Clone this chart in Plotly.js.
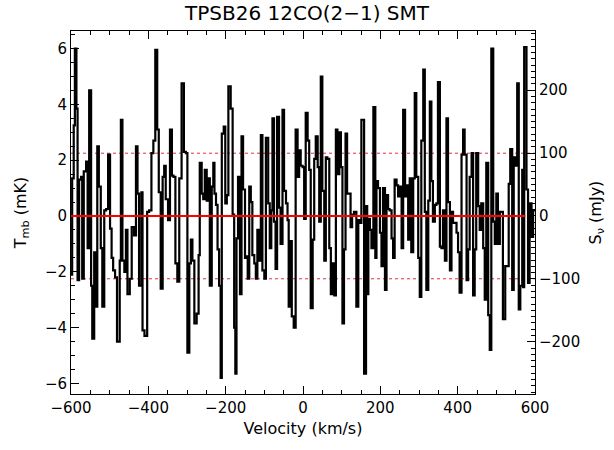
<!DOCTYPE html>
<html>
<head>
<meta charset="utf-8">
<script src="https://cdn.plot.ly/plotly-3.0.1.min.js"></script>
<style>
  html, body { margin: 0; padding: 0; background: #fff; }
  #chart { width: 614px; height: 450px; }
</style>
</head>
<body>
<div id="chart"></div>
<script>
// Spectrum: left edge of each channel step (km/s) and its brightness (mK)
const stepStart = [
  -600, -597, -593, -590, -586, -583, -579, -574, -571, -567, -561, -557, -553, -548, -545, -540,
  -536, -532, -528, -523, -519, -514, -509, -504, -499, -495, -491, -486, -481, -474, -471, -467,
  -462, -458, -454, -448, -443, -437, -432, -428, -424, -418, -415, -410, -403, -398, -392, -387,
  -382, -377, -373, -368, -363, -359, -355, -349, -344, -339, -335, -330, -325, -320, -314, -308,
  -303, -299, -294, -290, -286, -281, -275, -270, -267, -262, -258, -254, -249, -245, -241, -236,
  -232, -229, -225, -221, -217, -213, -210, -205, -201, -197, -193, -187, -182, -178, -175, -172,
  -168, -163, -159, -155, -150, -146, -143, -139, -135, -131, -126, -122, -118, -113, -109, -105,
  -100, -96, -90, -86, -82, -79, -75, -71, -67, -62, -58, -53, -49, -44, -40, -37,
  -33, -29, -24, -19, -14, -10, -6, -1, 3, 7, 12, 16, 20, 25, 29, 33,
  38, 42, 46, 50, 55, 59, 63, 68, 72, 76, 81, 85, 89, 94, 98, 102,
  106, 110, 114, 123, 127, 132, 138, 143, 147, 151, 158, 163, 166, 169, 173, 177,
  182, 187, 190, 194, 199, 203, 207, 212, 216, 220, 224, 229, 233, 237, 242, 246,
  250, 255, 259, 264, 268, 272, 276, 280, 285, 289, 293, 298, 302, 306, 311, 315,
  319, 324, 328, 332, 336, 341, 345, 349, 354, 358, 362, 367, 371, 375, 380, 384,
  388, 397, 401, 405, 410, 414, 418, 423, 427, 431, 436, 440, 444, 448, 453, 457,
  461, 466, 470, 474, 479, 483, 487, 492, 496, 500, 504, 509, 517, 523, 532, 536,
  541, 545, 549, 554, 558, 562, 567, 569, 572, 578, 582, 586, 591, 595
];
const tmb = [
  -2.1, 1.35, 3.25, 6.0, 3.85, -2.3, 1.3, 1.4, -2.25, 1.6, 1.95, -1.15, 4.5, -2.5, -4.4, -1.3,
  -3.25, 2.5, 1.05, -1.15, -3.25, 0.2, 0.25, 2.2, -0.45, -1.5, -1.95, -2.2, -4.5, -1.6, 3.45, -1.6,
  -2.0, -0.5, -2.8, -2.25, -0.4, -0.7, 2.5, 0.8, -2.5, 0.85, -4.1, -4.3, 0.15, 0.2, 2.25, 2.7,
  5.95, 3.1, 0.85, -2.6, 1.4, 1.8, 0.6, -0.15, 3.1, 1.45, 1.4, -1.7, -2.35, 1.35, 4.75, 2.3,
  2.25, -4.9, -1.7, -0.85, -1.6, -3.85, -3.5, -1.4, 1.9, 0.8, 0.6, 1.65, 0.55, 1.35, -2.5, 1.05,
  1.9, 0.8, 0.4, -1.2, -2.5, -5.8, 2.95, 3.2, 0.45, 0.75, 4.65, 3.85, 0.05, -4.0, -5.65, -0.8,
  1.4, -2.8, 2.85, 0.95, -1.5, -1.45, -2.25, 1.05, 0.5, -1.4, -1.7, -2.25, -0.5, -1.6, 2.9, -1.95,
  -2.25, 2.8, 0.45, -1.15, 0.2, 3.5, -0.2, -1.9, 3.55, 0.3, -1.0, 3.8, 0.9, 0.45, -0.15, -3.25,
  -0.9, -3.6, -4.0, 3.1, 1.4, 2.35, 1.8, 1.75, -0.1, 3.7, 2.7, 1.65, -3.3, -0.85, 2.05, 2.85,
  1.75, -0.2, 5.0, 0.9, -1.6, 2.1, 2.05, -1.15, -2.8, -1.7, -2.85, 3.1, 1.5, 3.0, 1.75, -3.85,
  -1.2, 2.95, 0.8, -0.4, 0.05, 0.15, -3.25, -0.15, -0.25, 3.45, -5.65, 0.35, -2.8, -0.1, -0.5, -1.15,
  3.9, -1.5, 1.25, 1.0, -0.6, -1.8, 1.0, -2.65, 0.75, 0.25, 0.2, -0.8, -1.5, 1.3, 1.1, 0.7,
  1.05, -1.15, 3.8, 0.7, 1.1, -0.85, 1.35, -1.3, 1.35, 4.4, 1.4, -1.5, -2.9, 2.7, 5.25, 0.15,
  -2.65, 0.55, 4.1, 1.25, -0.2, 0.4, 0.45, 4.8, -1.1, -1.15, 0.2, -1.6, 3.5, 0.5, -1.95, 0.15,
  -0.25, -0.6, -1.3, -2.75, 2.2, 3.1, 2.2, -2.3, -1.2, 1.4, 2.25, -2.85, -1.2, 2.25, 0.35, -0.5,
  0.45, -1.15, -3.0, 1.9, -3.55, -4.8, 6.0, -0.2, -1.0, 0.8, -1.0, 0.15, -3.7, -1.8, 1.15, 2.4,
  -2.65, 2.1, 1.8, 4.75, -3.35, -2.5, 1.65, -2.55, 6.05, 0.95, -2.4, 0.45, -0.75, 0.2
];

const velocityRange = [-600, 600];   // km/s
const tmbRange = [-6.38, 6.63];      // mK
const mJyPerMK = 44.35;              // flux-density conversion for the right axis
const noiseLevel = 2.25;             // mK, dotted reference lines
const baselineRange = [-600, 575];   // km/s, solid zero line

// close the last channel at the edge of the band
const xs = stepStart.concat([velocityRange[1]]);
const ys = tmb.concat([tmb[tmb.length - 1]]);

const fontFamily = 'DejaVu Sans, Liberation Sans, sans-serif';

const spectrum = {
  x: xs, y: ys,
  type: 'scatter', mode: 'lines',
  line: { shape: 'hv', color: '#000', width: 2.2 },
  hoverinfo: 'skip', showlegend: false
};
const fluxAxisCarrier = {
  x: [velocityRange[0]], y: [0], yaxis: 'y2',
  type: 'scatter', mode: 'markers', marker: { opacity: 0 },
  hoverinfo: 'skip', showlegend: false
};

const tickStyle = { ticks: 'inside', tickcolor: '#000', tickwidth: 1, ticklen: 8 };
const minorStyle = { ticks: 'inside', tickcolor: '#000', tickwidth: 1, ticklen: 4 };

const layout = {
  width: 614, height: 450,
  margin: { l: 71, r: 79, t: 31, b: 56 },
  paper_bgcolor: '#fff', plot_bgcolor: '#fff',
  showlegend: false,
  font: { family: fontFamily, color: '#000', size: 15 },
  title: {
    text: 'TPSB26 12CO(2\u22121) SMT',
    font: { family: fontFamily, size: 20, color: '#000' },
    xref: 'container', x: 0.5, xanchor: 'center',
    yref: 'container', y: 0.972, yanchor: 'middle'
  },
  xaxis: Object.assign({
    range: velocityRange, dtick: 200, tick0: 0,
    minor: Object.assign({ dtick: 50 }, minorStyle),
    showgrid: false, zeroline: false,
    showline: true, linecolor: '#000', linewidth: 1, mirror: 'ticks',
    tickfont: { family: fontFamily, size: 15, color: '#000' },
    title: { text: 'Velocity (km/s)', font: { family: fontFamily, size: 16, color: '#000' }, standoff: 6 }
  }, tickStyle),
  yaxis: Object.assign({
    range: tmbRange, dtick: 2, tick0: 0,
    minor: Object.assign({ dtick: 0.5 }, minorStyle),
    showgrid: false, zeroline: false,
    showline: true, linecolor: '#000', linewidth: 1, mirror: false,
    tickfont: { family: fontFamily, size: 15, color: '#000' },
    title: { text: 'T<sub>mb</sub> (mK)', font: { family: fontFamily, size: 16, color: '#000' }, standoff: 14 }
  }, tickStyle),
  yaxis2: Object.assign({
    overlaying: 'y', side: 'right',
    range: [tmbRange[0] * mJyPerMK, tmbRange[1] * mJyPerMK], dtick: 100, tick0: 0,
    minor: Object.assign({ dtick: 10 }, minorStyle),
    showgrid: false, zeroline: false,
    showline: true, linecolor: '#000', linewidth: 1,
    tickfont: { family: fontFamily, size: 15, color: '#000' },
    title: { text: 'S<sub>\u03bd</sub> (mJy)', font: { family: fontFamily, size: 16, color: '#000' }, standoff: 10 }
  }, tickStyle),
  shapes: [
    { type: 'line', xref: 'x', yref: 'y', x0: velocityRange[0], x1: velocityRange[1], y0: noiseLevel, y1: noiseLevel,
      line: { color: '#e03040', width: 1, dash: 'dot' }, layer: 'below' },
    { type: 'line', xref: 'x', yref: 'y', x0: velocityRange[0], x1: velocityRange[1], y0: -noiseLevel, y1: -noiseLevel,
      line: { color: '#e03040', width: 1, dash: 'dot' }, layer: 'below' },
    { type: 'line', xref: 'x', yref: 'y', x0: baselineRange[0], x1: baselineRange[1], y0: 0, y1: 0,
      line: { color: '#ff0000', width: 1.8 }, layer: 'above' }
  ]
};

Plotly.newPlot('chart', [spectrum, fluxAxisCarrier], layout, { staticPlot: true, displayModeBar: false });
</script>
</body>
</html>
